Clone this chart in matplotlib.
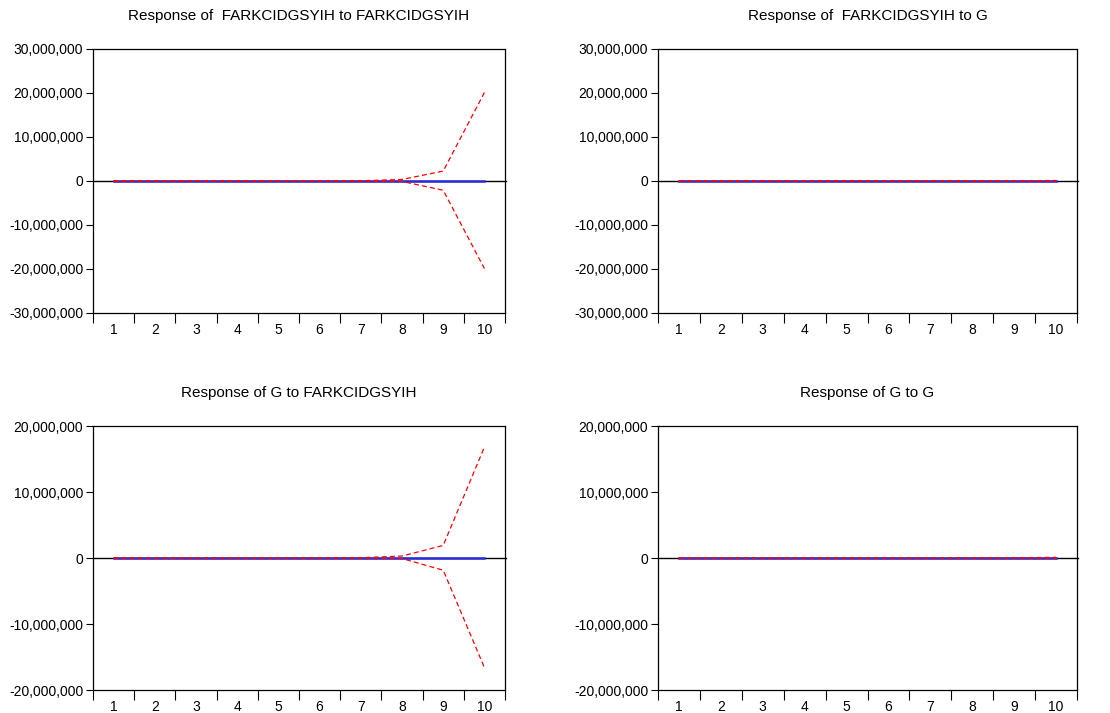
import numpy as np
import matplotlib
matplotlib.use("Agg")
import matplotlib.pyplot as plt
from matplotlib.ticker import FuncFormatter

plt.rcParams['font.family'] = ['Liberation Sans', 'DejaVu Sans']

periods = np.arange(1, 11)

# Response of FARKCIDGSYIH to FARKCIDGSYIH
r11 = [0, 0, 0, 0, 0, 0, 0, 0, 0, 0]
r11_up = [0, 0, 0, 0, 0, 0, 50000, 350000, 2250000, 20100000]
r11_lo = [0, 0, 0, 0, 0, 0, -30000, -100000, -2100000, -19900000]

# Response of FARKCIDGSYIH to G
r12 = [0, 0, 0, 0, 0, 0, 0, 0, 0, 0]
r12_up = [0, 0, 0, 0, 0, 0, 0, 10000, 30000, 120000]
r12_lo = [0, 0, 0, 0, 0, 0, 0, -10000, -30000, -60000]

# Response of G to FARKCIDGSYIH
r21 = [0, 0, 0, 0, 0, 0, 0, 0, 0, 0]
r21_up = [0, 0, 0, 0, 0, 0, 40000, 300000, 1900000, 16800000]
r21_lo = [0, 0, 0, 0, 0, 0, -20000, -80000, -1850000, -16600000]

# Response of G to G
r22 = [0, 0, 0, 0, 0, 0, 0, 0, 0, 0]
r22_up = [0, 0, 0, 0, 0, 0, 0, 10000, 30000, 100000]
r22_lo = [0, 0, 0, 0, 0, 0, 0, -10000, -30000, -50000]

titles = ["Response of  FARKCIDGSYIH to FARKCIDGSYIH",
          "Response of  FARKCIDGSYIH to G",
          "Response of G to FARKCIDGSYIH",
          "Response of G to G"]
panels = [(r11, r11_up, r11_lo), (r12, r12_up, r12_lo),
          (r21, r21_up, r21_lo), (r22, r22_up, r22_lo)]
ylims = [30000000, 30000000, 20000000, 20000000]

W, H = 1110, 713
fig = plt.figure(figsize=(W / 100, H / 100), dpi=100)

# axes boxes in pixels: left, top, right, bottom
boxes = [(93, 49, 505, 313), (658, 49, 1077, 313),
         (93, 426, 505, 690), (658, 426, 1077, 690)]

fmt = FuncFormatter(lambda v, p: "{:,.0f}".format(v))

for i in range(4):
    l, t, r, b = boxes[i]
    ax = fig.add_axes([l / W, 1 - b / H, (r - l) / W, (b - t) / H])
    resp, up, lo = panels[i]
    lim = ylims[i]
    ax.axhline(0, color="black", lw=1.0, zorder=1, clip_on=False,
               xmin=0, xmax=1.003)
    ax.plot(periods, resp, color="#2a2ad8", lw=1.8, zorder=2)
    ax.plot(periods, up, color="red", lw=0.9, ls=(0, (4, 2.5)), zorder=3)
    ax.plot(periods, lo, color="red", lw=0.9, ls=(0, (4, 2.5)), zorder=3)
    ax.set_xlim(0.5, 10.5)
    ax.set_ylim(-lim, lim)
    ax.set_yticks(np.arange(-lim, lim + 1, 10000000))
    ax.yaxis.set_major_formatter(fmt)
    ax.set_xticks(np.arange(0.5, 10.6, 1.0))
    ax.set_xticklabels([])
    ax.set_xticks(periods, minor=True)
    ax.set_xticklabels([str(p) for p in periods], minor=True)
    ax.tick_params(axis="x", which="major", direction="out", length=7, width=0.8)
    ax.tick_params(axis="x", which="minor", length=0, pad=7, labelsize=10)
    ax.tick_params(axis="y", direction="out", length=5, width=0.8, labelsize=10, pad=2)
    for s in ax.spines.values():
        s.set_linewidth(0.9)
    ax.set_title(titles[i], fontsize=11, pad=21)

fig.savefig("out.png", dpi=100)
